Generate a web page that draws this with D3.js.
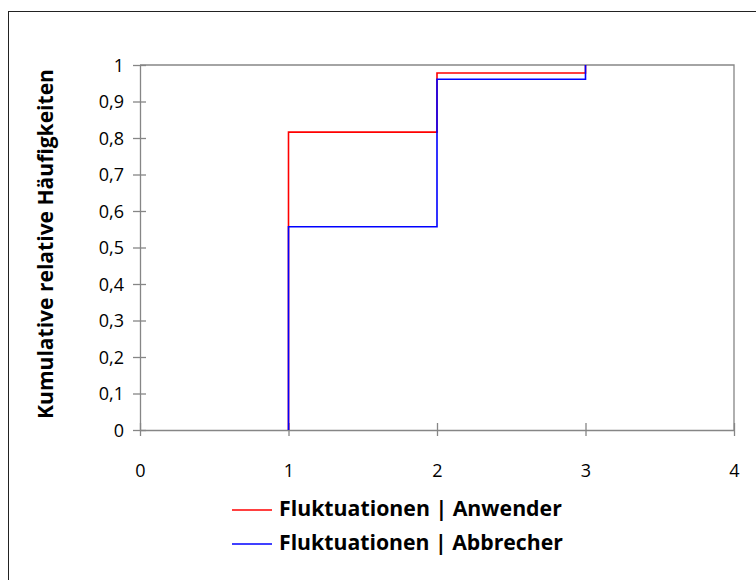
<!DOCTYPE html>
<html>
<head>
<meta charset="utf-8">
<script src="https://cdn.jsdelivr.net/npm/d3@7"></script>
<style>
  html, body { margin: 0; padding: 0; background: #fff; }
  svg { display: block; }
  text { font-family: "Open Sans", Lato, sans-serif; fill: #000; }
</style>
</head>
<body>
<svg id="chart" width="756" height="580"></svg>
<script>
// ---- data ----
const xSteps = [1, 1, 2, 2, 3, 3];
const anwender = [0, 0.816, 0.816, 0.978, 0.978, 1];
const abbrecher = [0, 0.557, 0.557, 0.961, 0.961, 1];
const seriesNames = ["Fluktuationen | Anwender", "Fluktuationen | Abbrecher"];
const seriesColors = ["#ff0000", "#0000ff"];
const xTicks = [0, 1, 2, 3, 4];
const yTicks = [0, 0.1, 0.2, 0.3, 0.4, 0.5, 0.6, 0.7, 0.8, 0.9, 1];
const yTitle = "Kumulative relative Häufigkeiten";

const svg = d3.select("#chart");
const axisColor = "#868686";

// fit a text element's font size so its width matches a target
function fitWidth(sel, target) {
  const node = sel.node();
  const fs = parseFloat(sel.style("font-size"));
  const w = node.getComputedTextLength();
  if (w > 0) sel.style("font-size", (fs * target / w).toFixed(2) + "px");
}

// outer chart frame
svg.append("rect")
  .attr("x", 8.5).attr("y", 11.5)
  .attr("width", 760).attr("height", 580)
  .attr("fill", "none").attr("stroke", "#222").attr("stroke-width", 1);

const x = d3.scaleLinear().domain([0, 4]).range([140, 734]);
const y = d3.scaleLinear().domain([0, 1]).range([430, 65]);

// plot area border (top / right)
svg.append("path")
  .attr("d", `M${x(0)},${y(1)}H${x(4)}V${y(0)}`)
  .attr("fill", "none").attr("stroke", axisColor).attr("stroke-width", 1.3);

// y axis
const yAxis = svg.append("g").attr("transform", `translate(${x(0)},0)`)
  .call(d3.axisLeft(y).tickValues(yTicks).tickSize(0).tickPadding(0)
    .tickFormat(d => d3.format(".1~f")(d).replace(".", ",")));
yAxis.select(".domain").attr("stroke", axisColor).attr("stroke-width", 1.3);
yAxis.selectAll(".tick line").attr("x1", -7).attr("x2", 6)
  .attr("stroke", axisColor).attr("stroke-width", 1.3);
yAxis.selectAll(".tick text").attr("x", -16).attr("dy", "0.36em")
  .style("font-size", "18px").style("font-family", "'Open Sans', sans-serif").attr("fill", "#000");

// x axis
const xAxis = svg.append("g").attr("transform", `translate(0,${y(0)})`)
  .call(d3.axisBottom(x).tickValues(xTicks).tickSize(0).tickPadding(0)
    .tickFormat(d3.format("d")));
xAxis.select(".domain").attr("stroke", axisColor).attr("stroke-width", 1.3);
xAxis.selectAll(".tick line").attr("y1", -7).attr("y2", 6)
  .attr("stroke", axisColor).attr("stroke-width", 1.3);
xAxis.selectAll(".tick text").attr("y", 47).attr("dy", 0)
  .style("font-size", "18px").style("font-family", "'Open Sans', sans-serif").attr("fill", "#000");

// series lines
const line = d3.line().x(d => x(d[0])).y(d => y(d[1]));
[anwender, abbrecher].forEach((vals, i) => {
  svg.append("path")
    .datum(xSteps.map((xv, j) => [xv, vals[j]]))
    .attr("d", line)
    .attr("fill", "none")
    .attr("stroke", seriesColors[i])
    .attr("stroke-width", 1.6);
});

// y axis title
const title = svg.append("text")
  .attr("transform", `translate(47,244) rotate(-90)`)
  .attr("text-anchor", "middle")
  .attr("dominant-baseline", "middle")
  .style("font-size", "18px").style("font-weight", "bold")
  .text(yTitle);
fitWidth(title, 350);

// legend
const legendY = [510, 544];
seriesNames.forEach((name, i) => {
  svg.append("line")
    .attr("x1", 232).attr("x2", 272)
    .attr("y1", legendY[i]).attr("y2", legendY[i])
    .attr("stroke", seriesColors[i]).attr("stroke-width", 1.6);
  const t = svg.append("text")
    .attr("x", 279).attr("y", legendY[i])
    .attr("dominant-baseline", "middle")
    .style("font-size", "18px").style("font-weight", "bold")
    .text(name);
  fitWidth(t, i === 0 ? 283 : 284);
});
</script>
</body>
</html>
